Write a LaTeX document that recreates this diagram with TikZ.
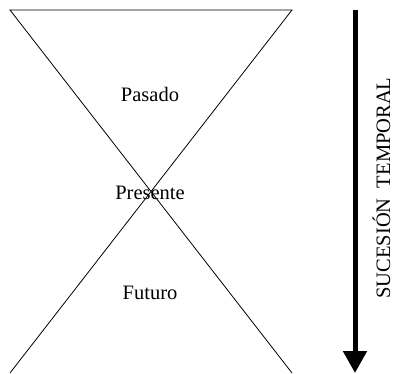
\documentclass[tikz,border=0pt]{standalone}
\usepackage{fontspec}
\setmainfont{Liberation Serif}
\usetikzlibrary{arrows.meta}

\begin{document}
\begin{tikzpicture}[x=1pt, y=-1pt, line width=0.8pt,
    etiqueta/.style={font=\fontsize{20.5}{24}\selectfont, inner sep=0pt}]
    \useasboundingbox (0,0) rectangle (393,374);
    % reloj de arena
    \coordinate (tl) at (10,10);
    \coordinate (tr) at (292,10);
    \coordinate (bl) at (10,373);
    \coordinate (br) at (292,373);
    \draw (bl) -- (tr) -- (tl) -- (br);
    \node[etiqueta] (pasado) at (150,94) {Pasado};
    \node[etiqueta] (presente) at (150,193) {Presente};
    \node[etiqueta] (futuro) at (150,293) {Futuro};
    % flecha del tiempo
    \coordinate (inicio) at (355,10);
    \coordinate (fin) at (355,373);
    \draw[line width=5pt, -{Triangle[width=23pt, length=22pt]}] (inicio) -- (fin);
    \node[etiqueta, rotate=90, anchor=base] (sucesion) at (390,188) {SUCESIÓN\ \ TEMPORAL};
\end{tikzpicture}
\end{document}
